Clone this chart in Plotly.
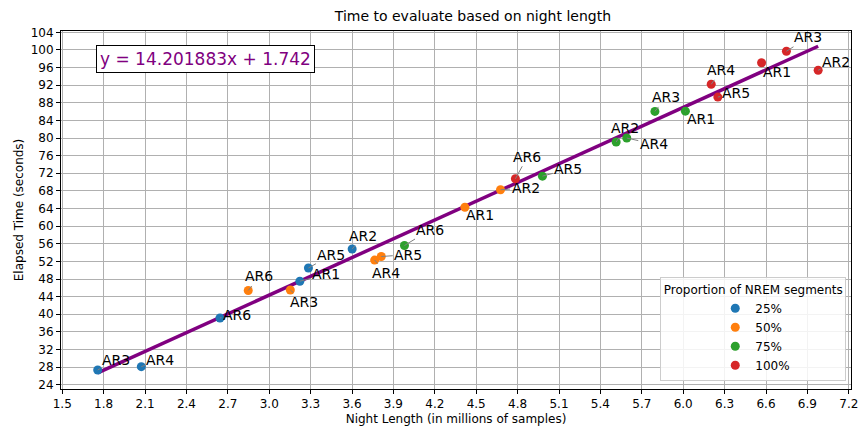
import plotly.graph_objects as go

# Night length (millions of samples) and elapsed time (s) per NREM proportion
labels_25 = ["AR3", "AR4", "AR6", "AR1", "AR5", "AR2"]
x_25 = [1.757, 2.073, 2.643, 3.222, 3.284, 3.601]
y_25 = [27.35, 28.1, 39.15, 47.5, 50.5, 54.8]

labels_50 = ["AR6", "AR3", "AR4", "AR5", "AR1", "AR2"]
x_50 = [2.848, 3.153, 3.764, 3.812, 4.418, 4.676]
y_50 = [45.4, 45.5, 52.3, 53.1, 64.3, 68.25]

labels_75 = ["AR6", "AR5", "AR2", "AR4", "AR3", "AR1"]
x_75 = [3.980, 4.980, 5.514, 5.591, 5.795, 6.016]
y_75 = [55.6, 71.35, 79.1, 80.0, 86.05, 86.1]

labels_100 = ["AR6", "AR4", "AR5", "AR1", "AR3", "AR2"]
x_100 = [4.784, 6.203, 6.251, 6.568, 6.748, 6.978]
y_100 = [70.75, 92.2, 89.3, 97.1, 99.7, 95.4]

series_names = ["25%", "50%", "75%", "100%"]
slope = 14.201883
intercept = 1.742

colors = ["#1f77b4", "#ff7f0e", "#2ca02c", "#d62728"]

# label offsets in screen pixels (dx, dy) for each series, placed to avoid overlap
label_offsets = [
    [(18, -10), (19, -7), (17, -3), (26, -7), (23, -13), (11, -13)],
    [(11, -14), (14, 12), (11, 13), (27, -2), (15, 8), (25, -2)],
    [(26, -16), (26, -7), (9, -14), (27, 6), (11, -14), (16, 8)],
    [(12, -22), (10, -14), (18, -4), (15, 9), (22, -14), (18, -8)],
]

groups = [
    (x_25, y_25, labels_25),
    (x_50, y_50, labels_50),
    (x_75, y_75, labels_75),
    (x_100, y_100, labels_100),
]

all_x = x_25 + x_50 + x_75 + x_100
fit_x = [min(all_x), max(all_x)]
fit_y = [slope * v + intercept for v in fit_x]

fig = go.Figure()

fig.add_trace(go.Scatter(
    x=fit_x, y=fit_y, mode="lines",
    line=dict(color="#800080", width=3.5),
    showlegend=False, hoverinfo="skip",
))

annotations = []
for (xs, ys, labs), name, col, offs in zip(groups, series_names, colors, label_offsets):
    fig.add_trace(go.Scatter(
        x=xs, y=ys, mode="markers", name=name,
        marker=dict(color=col, size=9),
    ))
    for xv, yv, lab, (dx, dy) in zip(xs, ys, labs, offs):
        annotations.append(dict(
            x=xv, y=yv, xref="x", yref="y", text=lab,
            showarrow=True, arrowhead=0, arrowwidth=1, arrowcolor="#808080",
            ax=dx, ay=dy, standoff=0,
            font=dict(family="DejaVu Sans", size=14, color="black"),
        ))

annotations.append(dict(
    xref="paper", yref="paper", x=0.044, y=0.962,
    xanchor="left", yanchor="top", showarrow=False,
    text=f"y = {slope:.6f}x + {intercept}",
    font=dict(family="DejaVu Sans", size=17, color="#800080"),
    bordercolor="black", borderwidth=1, borderpad=3, bgcolor="white",
))

tick_x = [round(1.5 + 0.3 * i, 1) for i in range(20)]
tick_y = list(range(24, 105, 4))

axis_common = dict(
    showgrid=True, gridcolor="#b0b0b0", gridwidth=1,
    showline=True, linecolor="black", linewidth=1, mirror=True,
    ticks="outside", ticklen=4, tickcolor="black",
    tickfont=dict(family="DejaVu Sans", size=12, color="black"),
    ticklabeloverflow="allow",
    zeroline=False,
)

fig.update_layout(
    width=863, height=429,
    margin=dict(l=61, r=5, t=31, b=40),
    paper_bgcolor="white", plot_bgcolor="white",
    title=dict(text="Time to evaluate based on night length",
               x=0.548, xanchor="center", y=0.974, yanchor="top",
               font=dict(family="DejaVu Sans", size=14, color="black")),
    xaxis=dict(axis_common, range=[1.491, 7.216], tickvals=tick_x,
               ticktext=[f"{v:.1f}" for v in tick_x],
               title=dict(text="Night Length (in millions of samples)", standoff=4,
                          font=dict(family="DejaVu Sans", size=12, color="black"))),
    yaxis=dict(axis_common, range=[23.03, 104.3], tickvals=tick_y,
               title=dict(text="Elapsed Time (seconds)", standoff=4,
                          font=dict(family="DejaVu Sans", size=12, color="black"))),
    legend=dict(
        title=dict(text="Proportion of NREM segments", side="top center",
                   font=dict(family="DejaVu Sans", size=12, color="black")),
        x=0.994, y=0.022, xanchor="right", yanchor="bottom",
        bgcolor="rgba(255,255,255,0.85)", bordercolor="#cccccc", borderwidth=1,
        font=dict(family="DejaVu Sans", size=12, color="black"),
        itemwidth=30, indentation=54, tracegroupgap=0,
    ),
    annotations=annotations,
)

fig.write_html("out.html")
